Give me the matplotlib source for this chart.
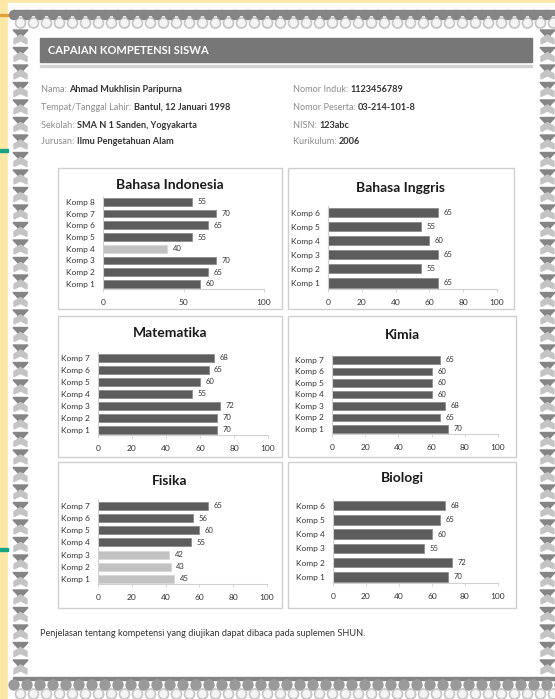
import matplotlib
matplotlib.use('Agg')
import matplotlib.pyplot as plt
from matplotlib.patches import Rectangle, Circle, Polygon
import numpy as np

plt.rcParams['font.family'] = ['Lato', 'DejaVu Sans']

W, H = 555, 699

# ---- data ----
titles = ['Bahasa Indonesia', 'Bahasa Inggris', 'Matematika', 'Kimia', 'Fisika', 'Biologi']
# values listed Komp 1 .. Komp n
bahasa_indonesia = [60, 65, 70, 40, 55, 65, 70, 55]
bahasa_inggris = [65, 55, 65, 60, 55, 65]
matematika = [70, 70, 72, 55, 60, 65, 68]
kimia = [70, 65, 68, 60, 60, 60, 65]
fisika = [45, 43, 42, 55, 60, 56, 65]
biologi = [70, 72, 55, 60, 65, 68]
series = [bahasa_indonesia, bahasa_inggris, matematika, kimia, fisika, biologi]
ticks_bi = [0, 50, 100]
ticks_20 = [0, 20, 40, 60, 80, 100]
xticks = [ticks_bi, ticks_20, ticks_20, ticks_20, ticks_20, ticks_20]
kkm = 50  # bars below this are drawn light

info_left = [('Nama: ', 'Ahmad Mukhlisin Paripurna'),
             ('Tempat/Tanggal Lahir: ', 'Bantul, 12 Januari 1998'),
             ('Sekolah: ', 'SMA N 1 Sanden, Yogyakarta'),
             ('Jurusan: ', 'Ilmu Pengetahuan Alam')]
info_right = [('Nomor Induk: ', '1123456789'),
              ('Nomor Peserta: ', '03-214-101-8'),
              ('NISN: ', '123abc'),
              ('Kurikulum: ', '2006')]

# panel layout in pixels: box, x of 0, x of 100, top bar y, bottom bar y, title y
panels = [
    ((58, 168, 282, 309), 103, 264, 203, 284, 185),
    ((288, 168, 514, 309), 328, 497, 214, 283, 188),
    ((58, 316, 282, 457), 98, 268, 359, 430, 333),
    ((288, 316, 516, 457), 332, 498, 361, 429, 335),
    ((58, 462, 282, 608), 98, 267, 507, 579, 481),
    ((288, 462, 516, 608), 333, 498, 507, 577, 478),
]

fig = plt.figure(figsize=(W / 100, H / 100), dpi=100)

# ---- page background and decorative border ----
bg = fig.add_axes([0, 0, 1, 1])
bg.set_xlim(0, W)
bg.set_ylim(H, 0)
bg.axis('off')
bg.add_patch(Rectangle((0, 0), W, H, color='#fde7a6'))
bg.add_patch(Rectangle((8, 3), W - 8, H - 3, color='white'))
bg.add_patch(Rectangle((0, 14), 10, 2, color='#e3a13a'))
bg.add_patch(Rectangle((0, 149), 8, 3, color='#19a385'))
bg.add_patch(Rectangle((0, 548), 8, 3, color='#19a385'))

dark = '#858585'
mid = '#c4c4c4'
# top band: dark scallops hanging down, light rings below
bg.add_patch(Rectangle((13, 10), W - 13, 5, color=dark))
for x in np.arange(14, W + 10, 13):
    bg.add_patch(Circle((x + 6.5, 23), 5, facecolor='#f4f4f4', edgecolor=mid, lw=1.2))
    bg.add_patch(Circle((x, 15), 4.5, color=dark))
# bottom band
bg.add_patch(Rectangle((13, 677), W - 13, 3, color=dark))
for x in np.arange(14, W + 10, 13):
    bg.add_patch(Circle((x, 685), 5, color='#9a9a9a'))
    bg.add_patch(Circle((x + 6.5, 694), 5, facecolor='#f4f4f4', edgecolor=mid, lw=1.2))
# side bands
for xl in (13, 540):
    for y in np.arange(30, 676, 17.5):
        bg.add_patch(Polygon([(xl, y), (xl + 15, y), (xl + 7.5, y + 8)], color=dark))
        bg.add_patch(Polygon([(xl + 1, y + 9), (xl + 7.5, y + 5), (xl + 14, y + 9),
                              (xl + 14, y + 14), (xl + 7.5, y + 11), (xl + 1, y + 14)],
                             color=mid))

# header bar
bg.add_patch(Rectangle((40, 38), 492, 24, color='#777777'))
bg.add_patch(Rectangle((40, 65), 492, 2, color='#d2d2d2'))
bg.text(48, 50, 'CAPAIAN KOMPETENSI SISWA', color='white', fontsize=8,
        fontweight='bold', va='center', ha='left')

# student info
rows_y = [90, 107, 125, 142]
for (lab, val), y in zip(info_left, rows_y):
    t = bg.text(41, y, lab, color='#8c8c8c', fontsize=6.6, va='center', ha='left')
    bg.annotate(val, xy=(1, 0.5), xycoords=t, color='#333333', fontsize=6.6,
                fontweight='bold', va='center', ha='left')
for (lab, val), y in zip(info_right, rows_y):
    t = bg.text(293, y, lab, color='#8c8c8c', fontsize=6.6, va='center', ha='left')
    bg.annotate(val, xy=(1, 0.5), xycoords=t, color='#333333', fontsize=6.6,
                fontweight='bold', va='center', ha='left')

bg.text(40, 633, 'Penjelasan tentang kompetensi yang diujikan dapat dibaca pada suplemen SHUN.',
        color='#333333', fontsize=6.6, va='center', ha='left')

# ---- chart panels ----
for title, vals, tks, (box, x0, x100, ytop, ybot, ty) in zip(titles, series, xticks, panels):
    bx0, by0, bx1, by1 = box
    bg.add_patch(Rectangle((bx0, by0), bx1 - bx0, by1 - by0, facecolor='white',
                           edgecolor='#cfcfcf', lw=1))
    bg.text((bx0 + bx1) / 2, ty, title, fontsize=10, fontweight='bold',
            color='#1a1a1a', ha='center', va='center')

    n = len(vals)
    s = (ybot - ytop) / (n - 1)
    bottom_px = ybot + 0.45 * s
    top_px = ytop - 0.55 * s
    ax = fig.add_axes([x0 / W, 1 - bottom_px / H, (x100 - x0) / W, (bottom_px - top_px) / H])
    ax.patch.set_alpha(0)
    pos = np.arange(n)
    colors = ['#c2c2c2' if v < kkm else '#5c5c5c' for v in vals]
    edges = ['#d8d8d8' if v < kkm else '#8c8c8c' for v in vals]
    ax.barh(pos, vals, height=0.66, color=colors, edgecolor=edges, linewidth=0.6)
    for p, v in zip(pos, vals):
        ax.annotate(str(v), xy=(v, p), xytext=(4, 0), textcoords='offset points',
                    fontsize=5.5, color='#333333', va='center', ha='left')
    ax.set_xlim(0, 100)
    ax.set_ylim(-0.45, n - 0.55)
    ax.set_xticks(tks)
    ax.set_yticks(pos)
    ax.set_yticklabels(['Komp %d' % (i + 1) for i in pos])
    for side in ('top', 'right'):
        ax.spines[side].set_visible(False)
    for side in ('left', 'bottom'):
        ax.spines[side].set_color('#d0d0d0')
        ax.spines[side].set_linewidth(0.8)
    ax.tick_params(axis='x', length=2, width=0.6, color='#d0d0d0', pad=5,
                   labelsize=6, labelcolor='#333333')
    ax.tick_params(axis='y', length=0, pad=6, labelsize=6, labelcolor='#333333')

fig.savefig('out.png', dpi=100)
